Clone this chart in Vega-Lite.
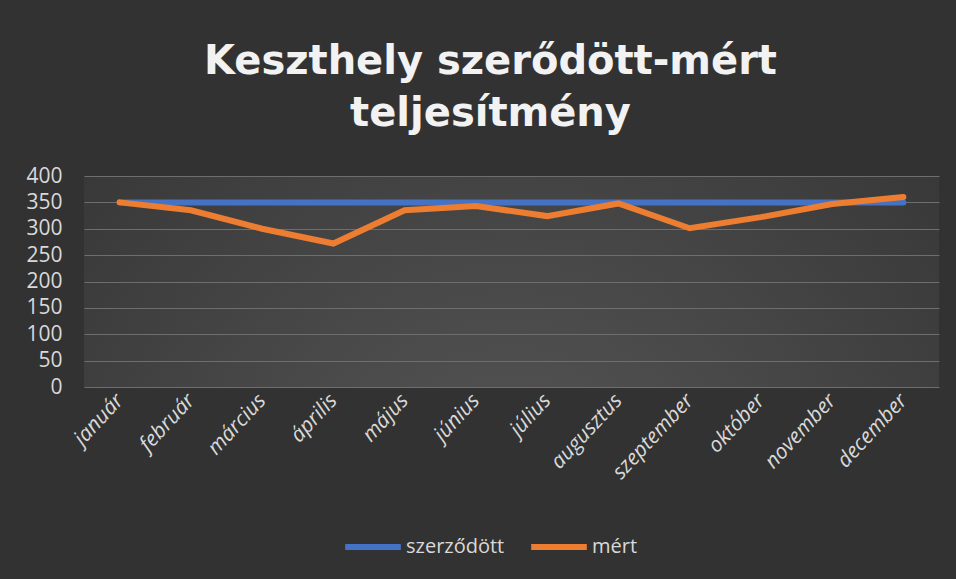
{
  "$schema": "https://vega.github.io/schema/vega-lite/v6.json",
  "width": 855,
  "height": 211,
  "autosize": {"type": "none"},
  "padding": {"left": 84, "top": 176, "right": 17, "bottom": 192},
  "background": "#323232",
  "title": {
    "text": ["Keszthely szerődött-mért", "teljesítmény"],
    "fontSize": 40,
    "font": "DejaVu Sans",
    "fontWeight": "bold",
    "color": "#f2f2f2",
    "lineHeight": 52,
    "anchor": "middle",
    "dx": -21,
    "offset": 31
  },
  "data": {
    "values": [
      {"month": "január", "series": "szerződött", "value": 350},
      {"month": "február", "series": "szerződött", "value": 350},
      {"month": "március", "series": "szerződött", "value": 350},
      {"month": "április", "series": "szerződött", "value": 350},
      {"month": "május", "series": "szerződött", "value": 350},
      {"month": "június", "series": "szerződött", "value": 350},
      {"month": "július", "series": "szerződött", "value": 350},
      {"month": "augusztus", "series": "szerződött", "value": 350},
      {"month": "szeptember", "series": "szerződött", "value": 350},
      {"month": "október", "series": "szerződött", "value": 350},
      {"month": "november", "series": "szerződött", "value": 350},
      {"month": "december", "series": "szerződött", "value": 350},
      {"month": "január", "series": "mért", "value": 350},
      {"month": "február", "series": "mért", "value": 335},
      {"month": "március", "series": "mért", "value": 300},
      {"month": "április", "series": "mért", "value": 272},
      {"month": "május", "series": "mért", "value": 335},
      {"month": "június", "series": "mért", "value": 343},
      {"month": "július", "series": "mért", "value": 324},
      {"month": "augusztus", "series": "mért", "value": 348},
      {"month": "szeptember", "series": "mért", "value": 301},
      {"month": "október", "series": "mért", "value": 322},
      {"month": "november", "series": "mért", "value": 347},
      {"month": "december", "series": "mért", "value": 360}
    ]
  },
  "mark": {"type": "line", "strokeWidth": 6, "strokeCap": "round", "strokeJoin": "miter"},
  "encoding": {
    "x": {
      "field": "month",
      "type": "ordinal",
      "sort": null,
      "scale": {"type": "point", "padding": 0.5},
      "axis": {
        "title": null,
        "labelAngle": -47,
        "labelAlign": "right",
        "labelBaseline": "middle",
        "labelFontSize": 21,
        "labelFont": "Open Sans",
        "labelFontStyle": "italic",
        "labelColor": "#d9d9d9",
        "labelPadding": 10,
        "ticks": false,
        "domain": false,
        "grid": false
      }
    },
    "y": {
      "field": "value",
      "type": "quantitative",
      "scale": {"domain": [0, 400]},
      "axis": {
        "title": null,
        "values": [0, 50, 100, 150, 200, 250, 300, 350, 400],
        "labelFontSize": 21,
        "labelFont": "Open Sans",
        "labelColor": "#d9d9d9",
        "labelPadding": 22,
        "ticks": false,
        "domain": false,
        "gridColor": "#6e6e6e",
        "gridWidth": 1
      }
    },
    "color": {
      "field": "series",
      "type": "nominal",
      "sort": ["szerződött", "mért"],
      "scale": {"domain": ["szerződött", "mért"], "range": ["#4472C4", "#ED7D31"]},
      "legend": {
        "title": null,
        "orient": "none",
        "legendX": 258,
        "legendY": 340,
        "direction": "horizontal",
        "symbolType": "stroke",
        "symbolStrokeWidth": 6,
        "symbolSize": 3100,
        "labelFontSize": 20,
        "labelFont": "Open Sans",
        "labelColor": "#d9d9d9",
        "labelOffset": 2,
        "columnPadding": 14
      }
    },
    "order": {"field": "series", "sort": "descending"}
  },
  "config": {
    "view": {
      "stroke": null,
      "fill": {
        "gradient": "radial",
        "x1": 0.5, "y1": 0.8, "x2": 0.5, "y2": 0.8,
        "r1": 0, "r2": 0.8,
        "stops": [{"offset": 0, "color": "#575757"}, {"offset": 1, "color": "#323232"}]
      }
    }
  }
}
